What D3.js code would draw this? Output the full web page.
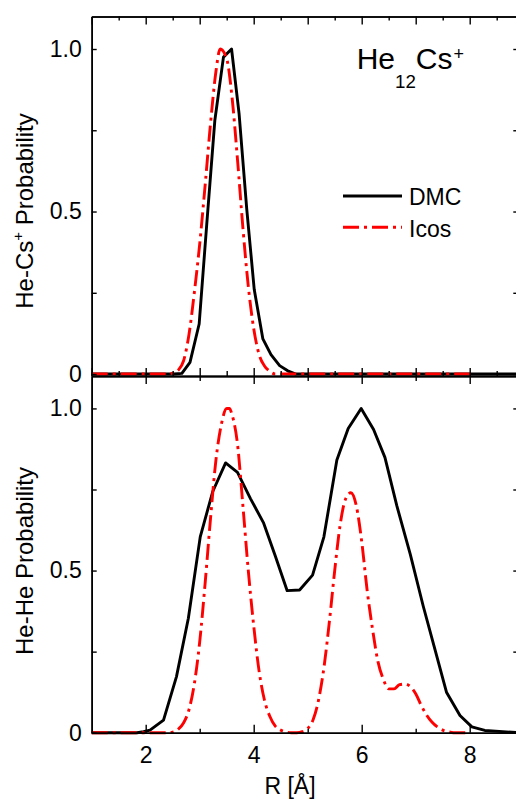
<!doctype html>
<html>
<head>
	<meta charset="utf-8">
	<title>He12Cs+ radial probabilities</title>
	<script src="https://d3js.org/d3.v7.min.js" charset="utf-8"></script>
	<style>
		body { margin: 0; background: #fff; }
		text { font-family: "Liberation Sans", Arial, sans-serif; fill: #000; }
	</style>
</head>

<body>

<script>

// He-Cs+ distribution, [R, probability]
const topDMC = [[1.0,0],[2.52,0],[2.67,0.002],[2.82,0.036],[2.99,0.154],[3.13,0.46],[3.28,0.78],[3.44,0.975],
	[3.59,1.0],[3.73,0.80],[3.87,0.51],[4.01,0.26],[4.17,0.108],[4.32,0.06],[4.48,0.026],[4.63,0.01],[4.78,0.0],[8.9,0.0]];

const topIcos = [[1.0,0],[2.4,0],[2.5,0.003],[2.6,0.012],[2.7,0.04],[2.8,0.12],[2.9,0.25],[3.0,0.40],[3.1,0.58],
	[3.2,0.77],[3.3,0.93],[3.38,1.0],[3.5,0.97],[3.6,0.85],[3.7,0.66],[3.8,0.45],[3.9,0.27],[4.0,0.14],
	[4.1,0.06],[4.2,0.025],[4.3,0.008],[4.4,0.0],[8.0,0.0]];

// He-He distribution
const botDMC = [[1.0,0],[1.84,0],[1.96,0.003],[2.08,0.008],[2.33,0.039],[2.57,0.173],[2.79,0.353],[3.01,0.604],
	[3.24,0.743],[3.48,0.832],[3.70,0.803],[3.94,0.722],[4.18,0.648],[4.40,0.545],[4.62,0.438],[4.85,0.44],
	[5.09,0.486],[5.30,0.604],[5.54,0.841],[5.75,0.938],[5.99,1.0],[6.22,0.935],[6.43,0.849],[6.65,0.70],
	[6.90,0.55],[7.14,0.39],[7.36,0.255],[7.57,0.125],[7.82,0.053],[8.04,0.018],[8.28,0.007],[8.9,0.0]];

const botIcos = [[1.0,0],[2.4,0],[2.5,0.002],[2.6,0.01],[2.7,0.03],[2.8,0.07],[2.9,0.15],[3.0,0.28],[3.1,0.46],
	[3.2,0.66],[3.3,0.84],[3.4,0.95],[3.5,1.0],[3.55,1.0],[3.6,0.98],[3.7,0.89],[3.8,0.70],[3.9,0.50],
	[4.0,0.33],[4.1,0.19],[4.2,0.10],[4.3,0.05],[4.4,0.02],[4.5,0.008],[4.6,0.002],[4.7,0],[4.8,0],
	[4.9,0.003],[5.0,0.013],[5.1,0.04],[5.2,0.10],[5.3,0.20],[5.4,0.34],[5.5,0.50],[5.6,0.64],[5.7,0.72],
	[5.8,0.74],[5.9,0.70],[6.0,0.59],[6.1,0.44],[6.2,0.32],[6.3,0.22],[6.4,0.165],[6.5,0.135],[6.6,0.135],
	[6.7,0.148],[6.8,0.15],[6.9,0.142],[7.0,0.12],[7.1,0.085],[7.2,0.055],[7.3,0.033],[7.4,0.018],
	[7.5,0.008],[7.6,0.003],[7.7,0],[8.0,0]];

const xLabelTicks = [2, 4, 6, 8];
const xMinorBottom = [3, 5, 7];
const xMajorTop = [1, 2, 3, 4, 5, 6, 7, 8];
const xMinorTop = [1.5, 2.5, 3.5, 4.5, 5.5, 6.5, 7.5, 8.5];
const yLabelTicks = [0, 0.5, 1.0];
const yMinorTicks = [0.25, 0.75];
const seriesNames = ["DMC", "Icos"];

const w = 516;
const h = 799;

const svg = d3.select("body").append("svg")
	.attr("width", w)
	.attr("height", h);

const x = d3.scaleLinear().domain([1, 8.9]).range([91.7, 518.3]);
const yTop = d3.scaleLinear().domain([-0.006, 1.1]).range([376, 16.5]);
const yBot = d3.scaleLinear().domain([0, 1.1]).range([732.7, 376]);

const fmtY = d => d === 0 ? "0" : d3.format(".1f")(d);

function frame(y, bottomTicks) {
	const y0 = y.range()[0], y1 = y.range()[1];
	const x0 = x.range()[0], x1 = x.range()[1];

	// left
	svg.append("g").attr("transform", `translate(${x0},0)`)
		.call(d3.axisLeft(y).tickValues(yLabelTicks).tickFormat(fmtY).tickSizeInner(-5).tickSizeOuter(0).tickPadding(10))
		.call(g => g.selectAll("text").style("font-size", "23px"));
	svg.append("g").attr("transform", `translate(${x0},0)`)
		.call(d3.axisLeft(y).tickValues(yMinorTicks).tickFormat("").tickSizeInner(-5).tickSizeOuter(0));
	// right
	svg.append("g").attr("transform", `translate(${x1},0)`)
		.call(d3.axisRight(y).tickValues(yLabelTicks.concat(yMinorTicks)).tickFormat("").tickSizeInner(-5).tickSizeOuter(0));
	// top
	svg.append("g").attr("transform", `translate(0,${y1})`)
		.call(d3.axisTop(x).tickValues(bottomTicks ? xLabelTicks : xMajorTop).tickFormat("").tickSizeInner(-8).tickSizeOuter(0));
	svg.append("g").attr("transform", `translate(0,${y1})`)
		.call(d3.axisTop(x).tickValues(bottomTicks ? xMinorBottom : xMinorTop).tickFormat("").tickSizeInner(bottomTicks ? -5 : -4).tickSizeOuter(0));
	// bottom
	if (bottomTicks) {
		svg.append("g").attr("transform", `translate(0,${y0})`)
			.call(d3.axisBottom(x).tickValues(xLabelTicks).tickSizeInner(-8).tickSizeOuter(0).tickPadding(13.5))
			.call(g => g.selectAll("text").style("font-size", "23px"));
		svg.append("g").attr("transform", `translate(0,${y0})`)
			.call(d3.axisBottom(x).tickValues(xMinorBottom).tickFormat("").tickSizeInner(-4).tickSizeOuter(0));
	} else {
		svg.append("g").attr("transform", `translate(0,${y0})`)
			.call(d3.axisBottom(x).tickValues(xMajorTop).tickFormat("").tickSizeInner(-8).tickSizeOuter(0));
		svg.append("g").attr("transform", `translate(0,${y0})`)
			.call(d3.axisBottom(x).tickValues(xMinorTop).tickFormat("").tickSizeInner(-5).tickSizeOuter(0));
	}
}

function curves(y, dmc, icos) {
	const lineDMC = d3.line().x(d => x(d[0])).y(d => y(d[1]));
	const lineIcos = d3.line().x(d => x(d[0])).y(d => y(d[1])).curve(d3.curveMonotoneX);
	svg.append("path").datum(dmc)
		.attr("d", lineDMC)
		.attr("fill", "none")
		.attr("stroke", "#000")
		.attr("stroke-width", 2.9)
		.attr("stroke-linejoin", "round");
	svg.append("path").datum(icos)
		.attr("d", lineIcos)
		.attr("fill", "none")
		.attr("stroke", "#ff0000")
		.attr("stroke-width", 2.9)
		.attr("stroke-dasharray", "16,5,3,5");
}

curves(yTop, topDMC, topIcos);
curves(yBot, botDMC, botIcos);
frame(yTop, false);
frame(yBot, true);

svg.selectAll(".domain").attr("stroke-width", 1.6);
svg.selectAll(".tick line").attr("stroke-width", 1.4);

// legend
const legend = svg.append("g");
seriesNames.forEach(function(name, i) {
	const ly = 196 + i * 31.3;
	legend.append("line")
		.attr("x1", 343).attr("x2", 402)
		.attr("y1", ly).attr("y2", ly)
		.attr("stroke", i === 0 ? "#000" : "#ff0000")
		.attr("stroke-width", 2.9)
		.attr("stroke-dasharray", i === 0 ? null : "16,5,3,5");
	legend.append("text")
		.attr("x", 409).attr("y", ly + 9.2)
		.style("font-size", "23px")
		.text(name);
});

// He12Cs+ label
const lab = svg.append("text").attr("x", 356.7).attr("y", 69.3).style("font-size", "30px");
lab.append("tspan").text("He");
lab.append("tspan").attr("dy", 19).style("font-size", "18.7px").text("12");
lab.append("tspan").attr("dy", -19).text("Cs");
lab.append("tspan").attr("dy", -9.3).attr("dx", 1).style("font-size", "18px").text("+");

// axis titles
const t1 = svg.append("text")
	.attr("transform", "translate(33,211) rotate(-90)")
	.attr("text-anchor", "middle")
	.style("font-size", "24px");
t1.append("tspan").text("He-Cs");
t1.append("tspan").attr("dy", -10).style("font-size", "15px").text("+");
t1.append("tspan").attr("dy", 10).text(" Probability");

svg.append("text")
	.attr("transform", "translate(33,561) rotate(-90)")
	.attr("text-anchor", "middle")
	.style("font-size", "24px")
	.text("He-He Probability");

svg.append("text")
	.attr("x", 290).attr("y", 794)
	.attr("text-anchor", "middle")
	.style("font-size", "23px")
	.text("R [Å]");

</script>

</body>
</html>
